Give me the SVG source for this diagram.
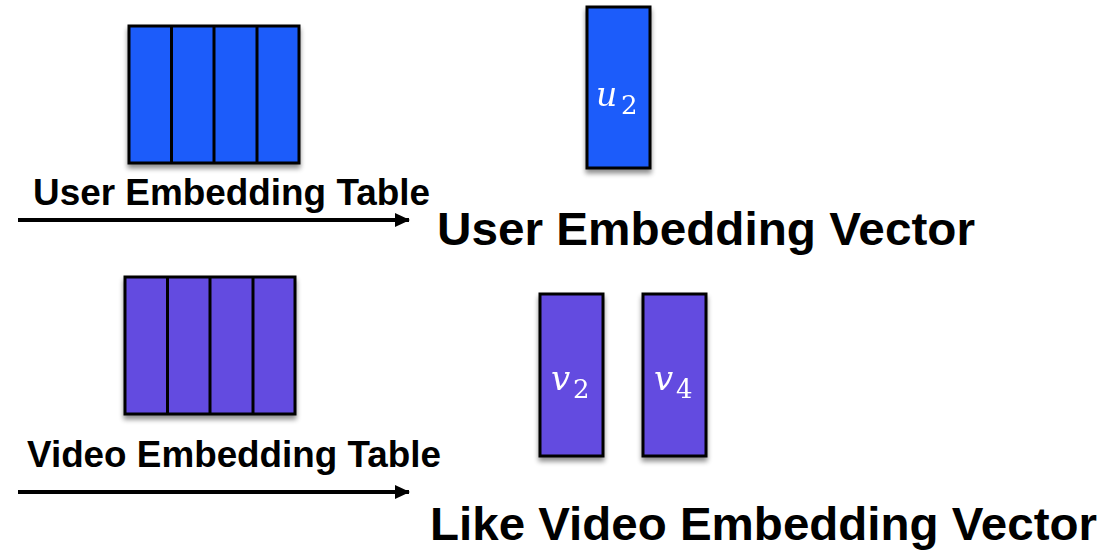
<svg xmlns="http://www.w3.org/2000/svg" width="1117" height="550" viewBox="0 0 1117 550">
<defs>
<filter id="sh" x="-20%" y="-20%" width="140%" height="140%">
<feGaussianBlur in="SourceAlpha" stdDeviation="2.5"/>
<feOffset dx="0" dy="4" result="b"/>
<feComponentTransfer><feFuncA type="linear" slope="0.45"/></feComponentTransfer>
<feMerge><feMergeNode/><feMergeNode in="SourceGraphic"/></feMerge>
</filter>
<marker id="ah" markerWidth="15" markerHeight="14" refX="14" refY="7" orient="auto" markerUnits="userSpaceOnUse">
<path d="M0,0 L15,7 L0,14 Z" fill="#000"/>
</marker>
</defs>
<style>
.blue{fill:#1F5BFA;stroke:#000;stroke-width:3}
.purple{fill:#644BE0;stroke:#000;stroke-width:3}
.div{stroke:#000;stroke-width:3}
.lbl{font-family:"Liberation Sans",Arial,sans-serif;font-weight:bold;fill:#000}
.math{font-family:"DejaVu Serif","Liberation Serif",serif;fill:#fff}
.conn{stroke:#000;stroke-width:4;fill:none}
</style>
<rect width="1117" height="550" fill="#fff"/>
<g id="user-table" filter="url(#sh)">
<rect class="blue" x="129" y="26" width="170" height="137"/>
<line class="div" x1="171.5" y1="26" x2="171.5" y2="163"/>
<line class="div" x1="214" y1="26" x2="214" y2="163"/>
<line class="div" x1="257" y1="26" x2="257" y2="163"/>
</g>
<g id="user-vector" filter="url(#sh)">
<rect class="blue" x="587" y="7" width="63" height="161"/>
<text class="math" x="596" y="106" font-size="33" font-style="italic">u</text>
<text class="math" x="621" y="114" font-size="26">2</text>
</g>
<g id="video-table" filter="url(#sh)">
<rect class="purple" x="125" y="277" width="170" height="137"/>
<line class="div" x1="167.5" y1="277" x2="167.5" y2="414"/>
<line class="div" x1="210" y1="277" x2="210" y2="414"/>
<line class="div" x1="253" y1="277" x2="253" y2="414"/>
</g>
<g id="video-vector-2" filter="url(#sh)">
<rect class="purple" x="540" y="294" width="63" height="162"/>
<text class="math" x="551" y="390" font-size="34" font-style="italic">v</text>
<text class="math" x="573" y="398" font-size="26">2</text>
</g>
<g id="video-vector-4" filter="url(#sh)">
<rect class="purple" x="643" y="294" width="63" height="162"/>
<text class="math" x="654" y="390" font-size="34" font-style="italic">v</text>
<text class="math" x="676" y="398" font-size="26">4</text>
</g>
<g id="labels">
<text class="lbl" x="33" y="205" font-size="36" textLength="397" lengthAdjust="spacingAndGlyphs">User Embedding Table</text>
<text class="lbl" x="437" y="245" font-size="47" textLength="538" lengthAdjust="spacingAndGlyphs">User Embedding Vector</text>
<text class="lbl" x="27" y="467" font-size="36" textLength="414" lengthAdjust="spacingAndGlyphs">Video Embedding Table</text>
<text class="lbl" x="430" y="540" font-size="47" textLength="667" lengthAdjust="spacingAndGlyphs">Like Video Embedding Vector</text>
</g>
<g id="connectors">
<line class="conn" x1="18" y1="220" x2="409" y2="220" marker-end="url(#ah)"/>
<line class="conn" x1="18" y1="492" x2="409" y2="492" marker-end="url(#ah)"/>
</g>
</svg>
